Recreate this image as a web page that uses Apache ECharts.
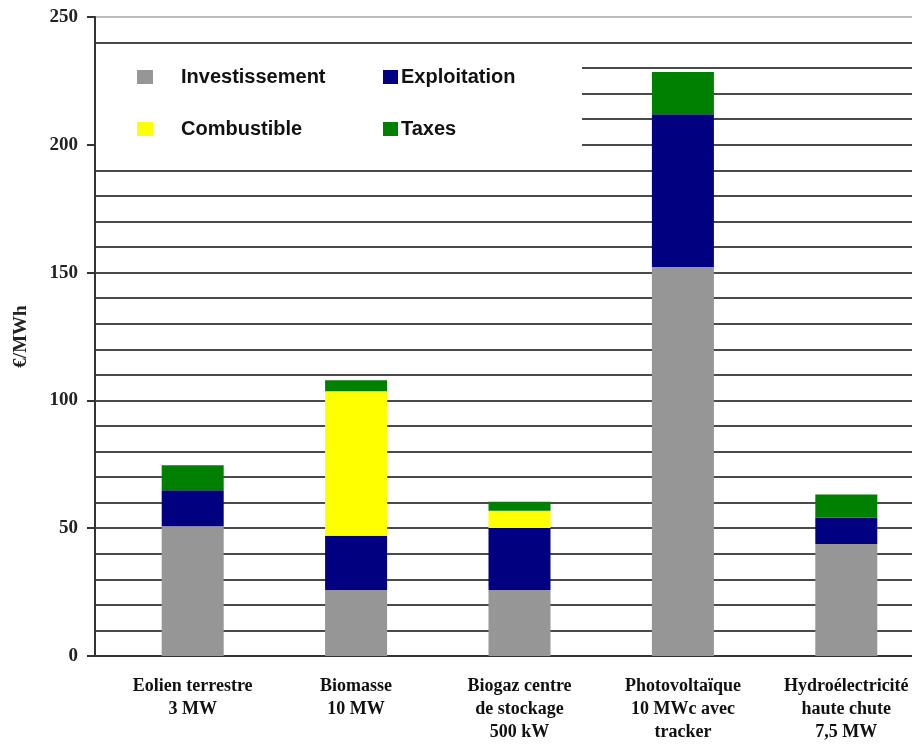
<!DOCTYPE html>
<html lang="fr">
<head>
	<meta charset="UTF-8">
	<title>Coûts de production</title>
	<script src="https://cdn.jsdelivr.net/npm/echarts@6/dist/echarts.min.js"></script>
	<style>
		html, body { margin: 0; padding: 0; background: #fff; }
	</style>
</head>
<body>
	<div id="main" style="width: 912px;height:744px;"></div>
<script type="text/javascript">
	// données (€/MWh)
	var categories = [
		'Eolien terrestre\n3 MW',
		'Biomasse\n10 MW',
		'Biogaz centre\nde stockage\n500 kW',
		'Photovoltaïque\n10 MWc avec\ntracker',
		'Hydroélectricité\nhaute chute\n7,5 MW'
	];
	var investissement = [50.8, 25.8, 25.8, 152.2, 43.8];
	var exploitation   = [14.0, 21.2, 24.3, 59.8, 10.4];
	var combustible    = [0, 56.6, 6.7, 0, 0];
	var taxes          = [9.8, 4.3, 3.5, 16.5, 9.0];

	var myChart = echarts.init(document.getElementById('main'));

	var serif = '"Liberation Serif", "Times New Roman", serif';
	var sans = '"Liberation Sans", Arial, sans-serif';
	var gridCol = '#4a4a4a';

	function barSerie(name, data, color) {
		return {
			name: name,
			type: 'bar',
			stack: 'total',
			barWidth: 62,
			barGap: '0%',
			data: data,
			itemStyle: { color: color },
			z: 3
		};
	}

	// série vide : décale les barres vers la droite comme dans l'original
	var spacer = {
		name: 'spacer',
		type: 'bar',
		stack: 'spacer',
		barWidth: 32,
		barGap: '0%',
		data: [null, null, null, null, null],
		silent: true
	};

	var legendText = { fontFamily: sans, fontWeight: 'bold', fontSize: 20, color: '#111' };

	myChart.setOption({
		animation: false,
		backgroundColor: '#fff',
		grid: {
			left: 95,
			right: 0,
			top: 17,
			bottom: 87
		},
		legend: [
			{
				data: ['Investissement', 'Combustible'],
				orient: 'vertical',
				left: 132,
				top: 62,
				itemWidth: 16,
				itemHeight: 14,
				itemGap: 32,
				icon: 'rect',
				textStyle: Object.assign({ padding: [0, 0, 0, 23] }, legendText)
			},
			{
				data: ['Exploitation', 'Taxes'],
				orient: 'vertical',
				left: 378,
				top: 62,
				itemWidth: 15,
				itemHeight: 14,
				itemGap: 32,
				icon: 'rect',
				textStyle: Object.assign({ padding: [0, 0, 0, -2] }, legendText)
			}
		],
		graphic: [
			{
				type: 'rect',
				shape: { x: 96, y: 50, width: 486, height: 114 },
				style: { fill: '#fff' },
				z: 1
			}
		],
		xAxis: {
			type: 'category',
			data: categories,
			axisLine: { lineStyle: { color: '#333', width: 2 } },
			axisTick: { show: false },
			axisLabel: {
				fontFamily: serif,
				fontWeight: 'bold',
				fontSize: 18,
				color: '#111',
				lineHeight: 23,
				margin: 19,
				padding: [0, 0, 0, 32]
			}
		},
		yAxis: {
			type: 'value',
			min: 0,
			max: 250,
			interval: 50,
			name: '€/MWh',
			nameLocation: 'middle',
			nameRotate: 90,
			nameGap: 64,
			nameTextStyle: { fontFamily: serif, fontWeight: 'bold', fontSize: 19, color: '#222' },
			axisLine: { show: true, lineStyle: { color: '#333', width: 2 } },
			axisTick: { show: true, length: 8, lineStyle: { color: '#333', width: 2 } },
			axisLabel: {
				fontFamily: serif,
				fontWeight: 'bold',
				fontSize: 19,
				color: '#222',
				margin: 17
			},
			splitLine: {
				show: true,
				lineStyle: { color: [gridCol, gridCol, gridCol, gridCol, gridCol, '#bbb'], width: 2 }
			},
			minorTick: { show: false, splitNumber: 5 },
			minorSplitLine: {
				show: true,
				lineStyle: { color: gridCol, width: 2 }
			}
		},
		series: [
			spacer,
			barSerie('Investissement', investissement, '#969696'),
			barSerie('Exploitation', exploitation, '#000080'),
			barSerie('Combustible', combustible, '#ffff00'),
			barSerie('Taxes', taxes, '#008000')
		]
	});
</script>
</body>
</html>
